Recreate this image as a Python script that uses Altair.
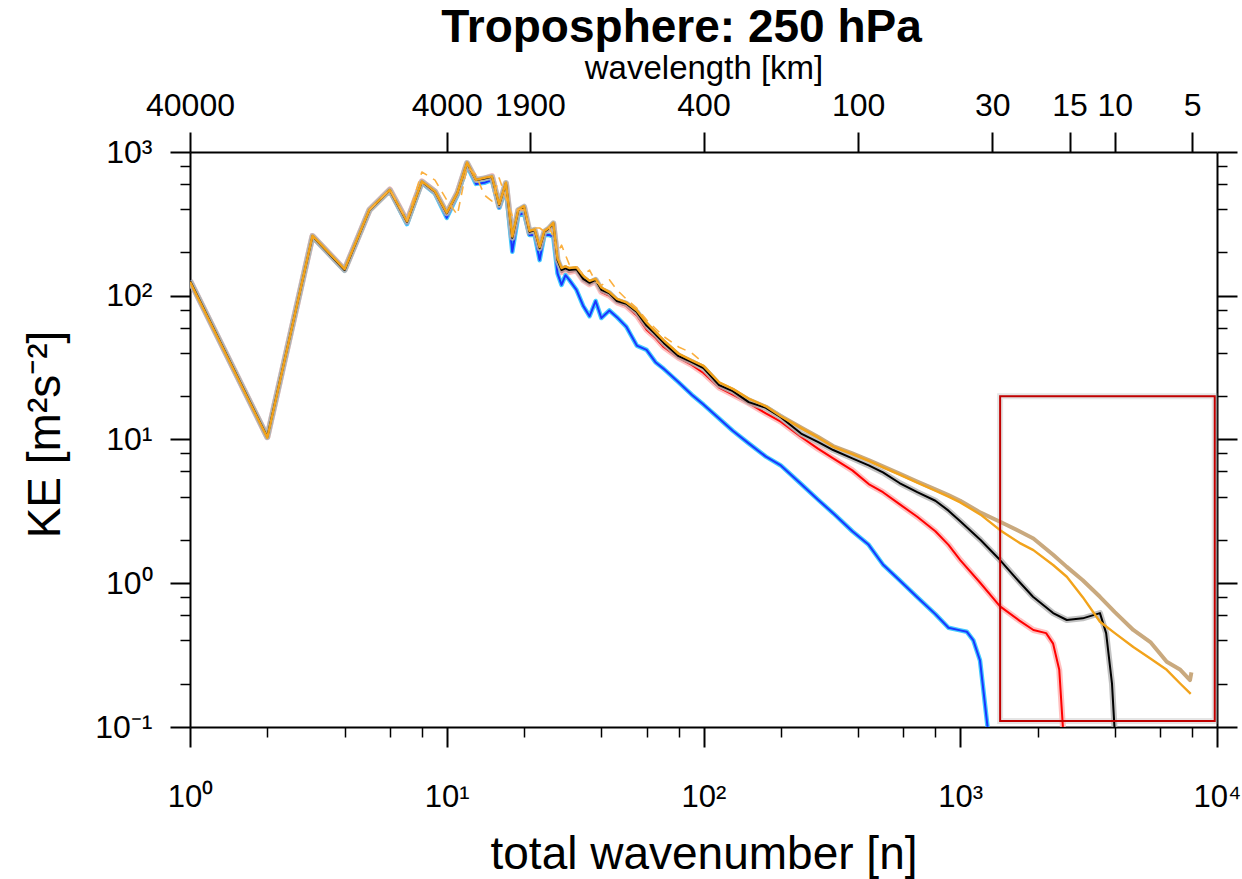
import altair as alt
import pandas as pd

# ---------------- data ----------------
N_LOW = list(range(1, 31))
BLACK_LOW = [127, 10.4, 260, 151, 395, 544, 327, 621, 529, 375, 518, 838, 638, 655, 673,
             428, 609, 253, 395, 416, 279, 287, 214, 279, 294, 319, 177, 151, 155, 151]
ORANGE_LOW = [125, 10.3, 262, 153, 398, 546, 330, 625, 532, 378, 520, 845, 640, 660, 676,
              432, 612, 258, 398, 420, 283, 290, 218, 282, 297, 322, 182, 156, 160, 156]
TAN_LOW = [126, 10.4, 261, 152, 396, 545, 328, 622, 530, 376, 519, 840, 639, 657, 674,
           430, 610, 256, 396, 418, 281, 289, 216, 281, 296, 320, 180, 154, 158, 153]
RED_LOW = [127, 10.4, 260, 152, 395, 548, 330, 625, 530, 372, 520, 830, 640, 650, 680,
           415, 600, 240, 390, 410, 270, 280, 205, 272, 290, 312, 170, 146, 152, 146]
BLUE_LOW = [127, 10.4, 258, 150, 392, 540, 315, 610, 515, 348, 500, 800, 600, 610, 640,
            410, 560, 202, 365, 375, 265, 265, 177, 265, 265, 258, 143, 119, 139, 129]

N_MID = [32, 34, 36, 38, 40, 43, 46, 50, 55, 60, 65, 70, 80, 90, 100, 115, 130, 150, 175,
         200, 240, 280, 320, 380, 440, 500, 580, 680, 800, 900, 1000]
BLACK_MID = [153, 131, 123, 129, 110, 104, 92, 88, 77, 62, 54, 47, 38, 34.6, 31.4, 23.9,
             21.7, 18.2, 16.6, 14.3, 11.0, 9.6, 8.45, 7.4, 6.6, 5.9, 4.98, 4.3, 3.75, 3.2, 2.7]
ORANGE_MID = [158, 138, 127, 131, 114, 106, 95, 90, 79, 65, 56, 49, 39.5, 35.5, 32.5, 25.0,
              22.5, 19.2, 17.0, 14.5, 12.0, 10.3, 8.9, 7.9, 7.1, 6.4, 5.7, 5.0, 4.4, 4.0, 3.65]
TAN_MID = [155, 135, 125, 130, 112, 105, 94, 89, 78, 64, 55, 48, 39, 35, 32, 24.5,
           22.2, 19.0, 16.9, 14.6, 12.1, 10.4, 9.0, 8.0, 7.2, 6.5, 5.8, 5.1, 4.5, 4.1, 3.75]
RED_MID = [150, 128, 120, 126, 106, 100, 90, 85, 73, 58, 51, 44, 37, 33, 29, 23,
           20.5, 17.9, 15.2, 13.3, 10.4, 8.6, 7.4, 6.1, 4.9, 4.3, 3.55, 2.9, 2.3, 1.85, 1.45]
BLUE_MID = [110, 85, 72, 92, 70, 79, 71, 61, 45, 42, 34.5, 31, 25, 20.5, 17.5, 14.0,
            11.5, 9.4, 7.6, 6.6, 4.9, 3.8, 3.07, 2.3, 1.85, 1.35, 1.05, 0.8, 0.61, 0.49, 0.47]

BLACK_TAIL_N = [1200, 1429, 1700, 1920, 2300, 2600, 3000, 3300, 3500, 3700, 3900, 4000]
BLACK_TAIL = [2.0, 1.45, 1.02, 0.805, 0.62, 0.555, 0.57, 0.60, 0.62, 0.45, 0.20, 0.09]
ORANGE_TAIL_N = [1200, 1429, 1700, 1927, 2300, 2600, 3000, 3500, 4000, 4720, 5500, 6370, 7200, 7900]
ORANGE_TAIL = [3.0, 2.34, 1.91, 1.70, 1.34, 1.11, 0.80, 0.54, 0.45, 0.36, 0.30, 0.25, 0.20, 0.17]
TAN_TAIL_N = [1200, 1429, 1700, 1927, 2300, 2600, 3000, 3500, 4000, 4720, 5500, 6370, 7200, 7850, 7950]
TAN_TAIL = [3.1, 2.68, 2.3, 2.05, 1.58, 1.30, 1.05, 0.805, 0.63, 0.473, 0.39, 0.284, 0.25, 0.212, 0.24]
RED_TAIL_N = [1200, 1429, 1700, 1927, 2160, 2300, 2430, 2520]
RED_TAIL = [1.0, 0.69, 0.55, 0.473, 0.45, 0.38, 0.25, 0.09]
BLUE_TAIL_N = [1060, 1125, 1194, 1286]
BLUE_TAIL = [0.46, 0.40, 0.29, 0.09]

DASH_N = [5, 6, 7, 8, 9, 10, 11, 12, 13, 14, 15, 16, 17, 18, 19, 20, 21, 22, 23, 24, 25, 26,
          27, 28, 29, 30, 32, 34, 36, 38, 40, 43, 46, 50, 55, 60, 70, 80, 90, 100]
DASH_KE = [395, 550, 335, 726, 638, 464, 365, 790, 692, 502, 456, 660, 480, 358, 400, 395,
           300, 296, 296, 280, 300, 260, 200, 225, 192, 165, 160, 140, 151, 125, 118, 129,
           110, 95, 82, 68, 52, 44, 40, 34]

BOX_N = [1430, 9800]
BOX_KE = [0.11, 20]

X_TICKS = [1, 2, 4, 6, 8, 10, 20, 40, 60, 80, 100, 200, 400, 600, 800, 1000,
           2000, 4000, 6000, 8000, 10000]
Y_TICKS = [0.1, 0.2, 0.4, 0.6, 0.8, 1, 2, 4, 6, 8, 10, 20, 40, 60, 80, 100,
           200, 400, 600, 800, 1000]
EARTH_KM = 40000
TOP_WAVELENGTHS = [40000, 4000, 1900, 400, 100, 30, 15, 10, 5]

# ---------------- build tables ----------------
def series(n_parts, v_parts):
    n, v = [], []
    for a, b in zip(n_parts, v_parts):
        n += list(a)
        v += list(b)
    return pd.DataFrame({"n": n, "ke": v})

black = series([N_LOW, N_MID, BLACK_TAIL_N], [BLACK_LOW, BLACK_MID, BLACK_TAIL])
orange = series([N_LOW, N_MID, ORANGE_TAIL_N], [ORANGE_LOW, ORANGE_MID, ORANGE_TAIL])
tan = series([N_LOW, N_MID, TAN_TAIL_N], [TAN_LOW, TAN_MID, TAN_TAIL])
red = series([N_LOW, N_MID, RED_TAIL_N], [RED_LOW, RED_MID, RED_TAIL])
blue = series([N_LOW, N_MID, BLUE_TAIL_N], [BLUE_LOW, BLUE_MID, BLUE_TAIL])
dash = pd.DataFrame({"n": DASH_N, "ke": DASH_KE})
box = pd.DataFrame({"x0": [BOX_N[0]], "x1": [BOX_N[1]], "y0": [BOX_KE[0]], "y1": [BOX_KE[1]]})

top_ticks = [EARTH_KM / w for w in TOP_WAVELENGTHS]

FONT = "Liberation Sans"
XS = alt.Scale(type="log", domain=[1, 10000])
YS = alt.Scale(type="log", domain=[0.1, 1000])

MAJOR = "abs(log(datum.value)/LN10 - round(log(datum.value)/LN10)) < 0.001"
SUP = "['\u207b\u00b9','\u2070','\u00b9','\u00b2','\u00b3','\u2074'][round(log(datum.value)/LN10)+1]"
LABEL = f"{MAJOR} ? '10' + {SUP} : ''"
TSIZE = {"condition": {"test": MAJOR, "value": 20}, "value": 10}
TWIDTH = {"condition": {"test": MAJOR, "value": 2}, "value": 1.5}

common_axis = dict(domainColor="black", domainWidth=2, tickColor="black", grid=False,
                   labelFont=FONT, labelColor="black",
                   titleFont=FONT, titleFontWeight="normal", titleColor="black")

ax_bottom = alt.Axis(orient="bottom", values=X_TICKS, labelExpr=LABEL, tickSize=TSIZE,
                     tickWidth=TWIDTH, labelPadding=35, labelFontSize=31,
                     title="total wavenumber [n]",
                     titleFontSize=46, titlePadding=20, labelFlush=False, labelOverlap=False,
                     **common_axis)
ax_left = alt.Axis(orient="left", values=Y_TICKS, labelExpr=LABEL, tickSize=TSIZE,
                   tickWidth=TWIDTH, labelPadding=18, labelFontSize=32,
                   title="KE [m\u00b2s\u207b\u00b2]",
                   titleFontSize=46, titleAngle=270, titleX=-145, titleY=282,
                   titleAlign="center", titleBaseline="middle",
                   labelFlush=False, labelOverlap=False,
                   **common_axis)
ax_top = alt.Axis(orient="top", values=top_ticks,
                  labelExpr=f"toString(round({EARTH_KM}/datum.value))",
                  tickSize=20, tickWidth=2, labelPadding=10, labelFontSize=32,
                  title="wavelength [km]",
                  titleFontSize=33, titlePadding=4, labelFlush=False, labelOverlap=False,
                  **common_axis)
ax_right = alt.Axis(orient="right", values=Y_TICKS, labels=False, tickSize=TSIZE,
                    tickWidth=TWIDTH, title="", **common_axis)


def line(df, color, width, **kw):
    return alt.Chart(df).mark_line(color=color, strokeWidth=width, clip=True,
                                   strokeJoin="round", **kw).encode(
        x=alt.X("n:Q", scale=XS, axis=None),
        y=alt.Y("ke:Q", scale=YS, axis=None),
        order="n:Q",
    )

box_shadow = alt.Chart(box).mark_rect(fillOpacity=0, stroke="#999999", strokeOpacity=0.25,
                                      strokeWidth=6).encode(
    x=alt.X("x0:Q", scale=XS, axis=ax_top),
    x2="x1:Q",
    y=alt.Y("y0:Q", scale=YS, axis=ax_right),
    y2="y1:Q",
)
box_rect = alt.Chart(box).mark_rect(fillOpacity=0, stroke="#c00000", strokeWidth=2).encode(
    x=alt.X("x0:Q", scale=XS, axis=ax_bottom),
    x2="x1:Q",
    y=alt.Y("y0:Q", scale=YS, axis=ax_left),
    y2="y1:Q",
)

layers = [
    box_shadow,
    line(red, "#ffb0b0", 6, opacity=0.8),
    line(red, "#ff0000", 2),
    line(blue, "#2ec4ff", 4.5, opacity=0.9),
    line(blue, "#1a35ff", 2),
    line(tan, "#c9a97e", 4),
    line(black, "#b3b3b3", 6, opacity=0.8),
    line(black, "#000000", 2),
    line(orange, "#f2a31b", 2.4),
    line(dash, "#fbb040", 1.6, strokeDash=[9, 7]),
    box_rect,
]

chart = alt.layer(*layers).resolve_axis(x="independent", y="independent").properties(
    width=1027,
    height=575,
    autosize=alt.AutoSizeParams(type="none"),
    padding={"left": 190, "top": 152, "right": 25, "bottom": 152},
    title=alt.TitleParams("Troposphere: 250 hPa", fontSize=46, fontWeight="bold", font=FONT,
                          anchor="middle", dx=-22, offset=0, color="black"),
).configure_view(stroke=None).configure(background="white")

chart.save("out.html", embed_options={"renderer": "svg", "actions": False})
